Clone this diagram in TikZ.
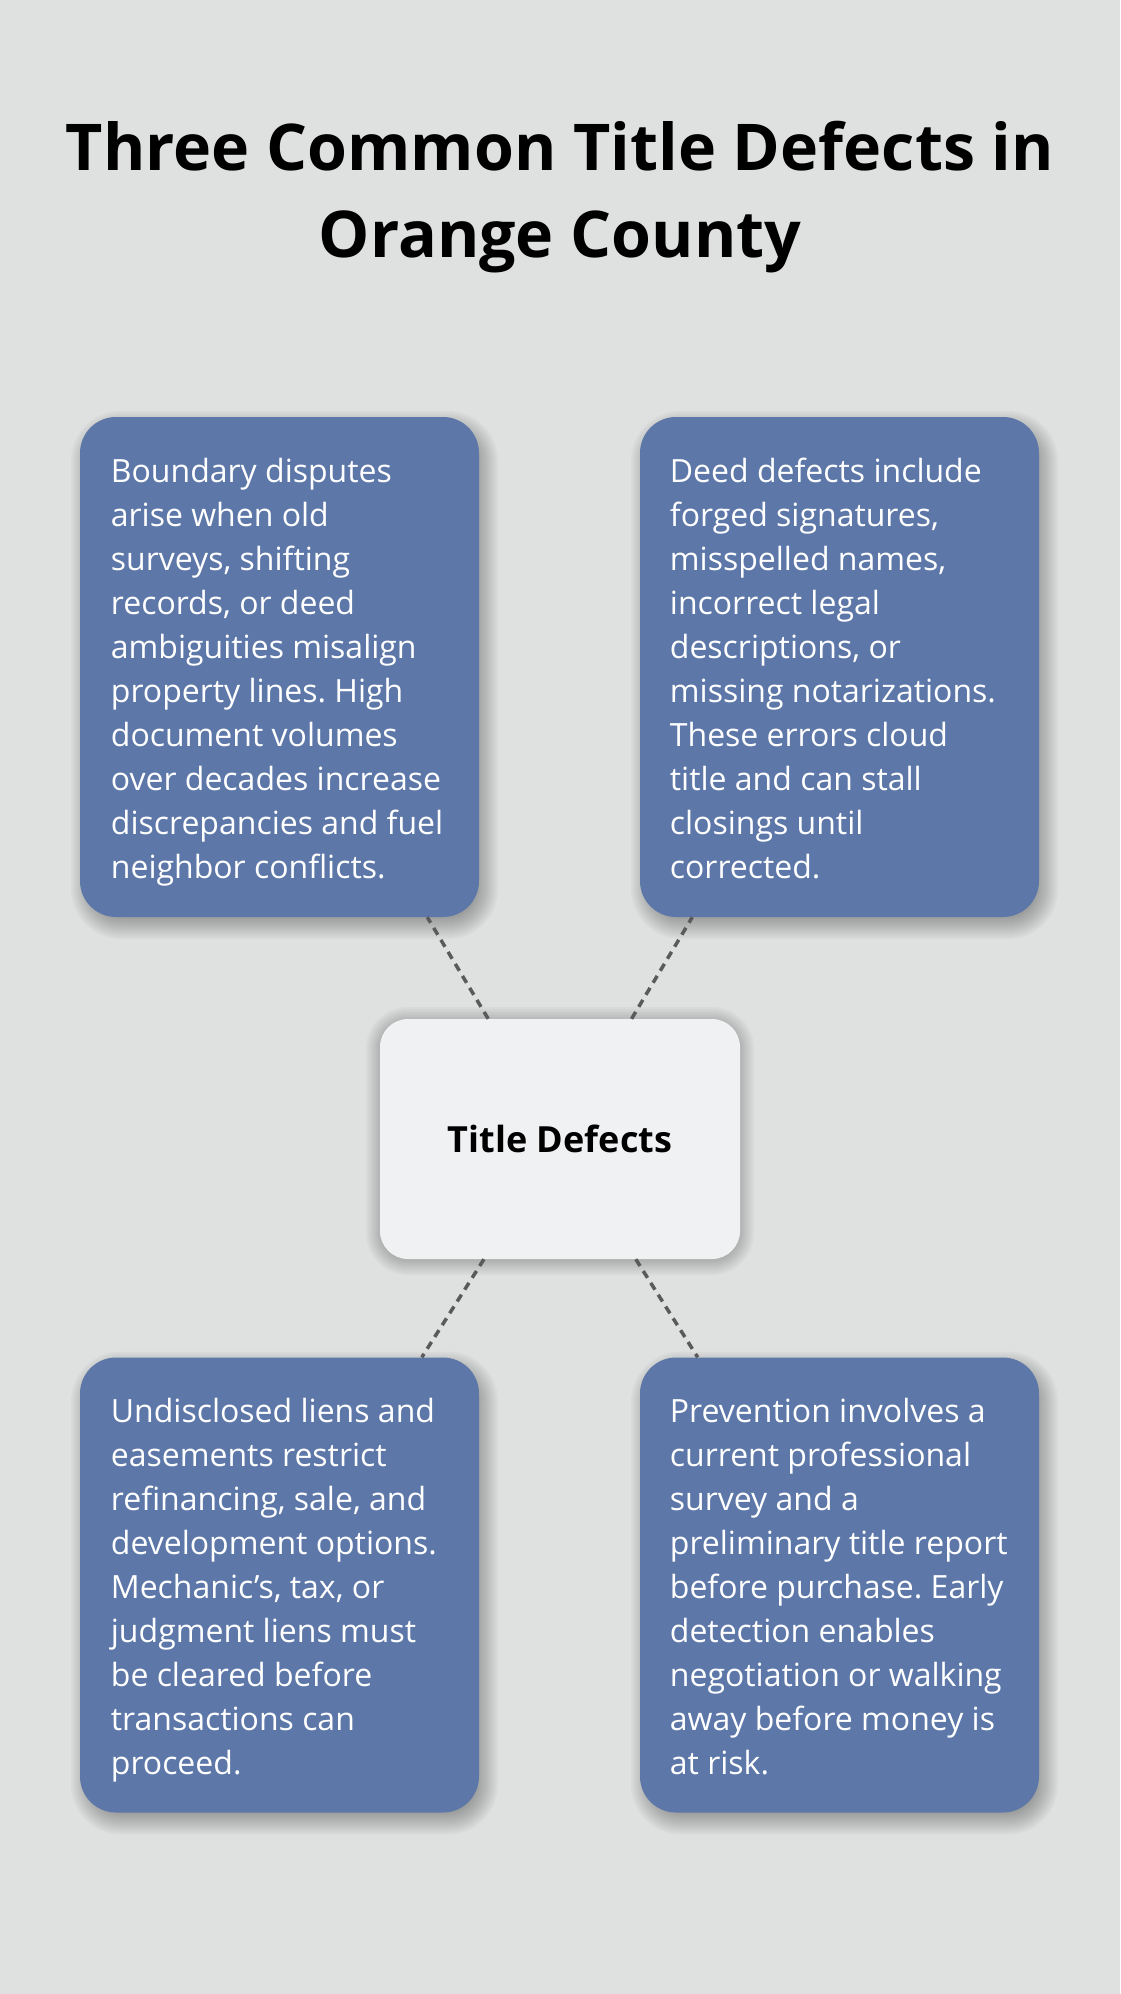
\documentclass[tikz,border=0pt]{standalone}
\usepackage{fontspec}
\setmainfont{Open Sans}
\frenchspacing
\definecolor{bgcol}{HTML}{DFE1E0}
\definecolor{cardblue}{HTML}{5C77A8}
\definecolor{hubcol}{HTML}{F0F1F3}
\definecolor{dashcol}{HTML}{5A5A5A}
% soft shadow: cx cy halfwidth halfheight dx dy radius
\newcommand\mysoftshadow[7]{%
  \foreach \e in {-8,-6,...,14}{%
    \pgfmathsetmacro\rr{max(#7+\e,2)}%
    \fill[black, fill opacity=0.028, rounded corners=\rr pt]
      ({#1-#3-\e+#5},{#2-#4-\e+#6}) rectangle ({#1+#3+\e+#5},{#2+#4+\e+#6});
  }}
\begin{document}
\begin{tikzpicture}[x=1pt,y=-1pt,
  cardbox/.style={fill=cardblue, rounded corners=36pt, minimum width=399pt, inner sep=0pt},
  hubbox/.style={fill=hubcol, rounded corners=28pt, minimum width=360pt, minimum height=240pt, inner sep=0pt,
    font=\bfseries\fontsize{36}{44}\selectfont, text=black},
  bodytext/.style={text=white, font=\fontsize{32}{44}\selectfont, align=left, inner sep=0pt, anchor=north west},
  titletext/.style={text=black, font=\bfseries\fontsize{64.5}{87}\selectfont, align=center, inner sep=0pt, anchor=north},
  conn/.style={draw=dashcol, line width=3.5pt, dash pattern=on 8pt off 6pt}
]
\fill[bgcol] (0,0) rectangle (1120,1994);
\useasboundingbox (0,0) rectangle (1120,1994);

\node[titletext] (title) at (560,118) {\rule{0pt}{52pt}Three Common Title Defects in\\Orange County};

\mysoftshadow{279.5}{667}{199.5}{250}{5}{8}{36}
\mysoftshadow{839.5}{667}{199.5}{250}{5}{8}{36}
\mysoftshadow{279.5}{1585}{199.5}{227.5}{5}{8}{36}
\mysoftshadow{839.5}{1585}{199.5}{227.5}{5}{8}{36}
\mysoftshadow{560}{1137}{180}{120}{0}{4}{28}

\node[cardbox, minimum height=500pt] (b1) at (279.5,667) {};
\node[cardbox, minimum height=500pt] (b2) at (839.5,667) {};
\node[cardbox, minimum height=455pt] (b3) at (279.5,1585) {};
\node[cardbox, minimum height=455pt] (b4) at (839.5,1585) {};

\node[hubbox] (c) at (560,1139) {Title Defects};

\draw[conn] (c) -- (b1);
\draw[conn] (c) -- (b2);
\draw[conn] (c) -- (b3);
\draw[conn] (c) -- (b4);

\node[bodytext] (t1) at (110.7,452) {\rule{0pt}{30pt}Boundary disputes\\arise when old\\surveys, shifting\\records, or deed\\ambiguities misalign\\property lines. High\\document volumes\\over decades increase\\discrepancies and fuel\\neighbor conflicts.};
\node[bodytext] (t2) at (669.7,452) {\rule{0pt}{30pt}Deed defects include\\forged signatures,\\misspelled names,\\incorrect legal\\descriptions, or\\missing notarizations.\\These errors cloud\\title and can stall\\closings until\\corrected.};
\node[bodytext] (t3) at (110.7,1392) {\rule{0pt}{30pt}Undisclosed liens and\\easements restrict\\refinancing, sale, and\\development options.\\Mechanic’s, tax, or\\judgment liens must\\be cleared before\\transactions can\\proceed.};
\node[bodytext] (t4) at (669.7,1392) {\rule{0pt}{30pt}Prevention involves a\\current professional\\survey and a\\preliminary title report\\before purchase. Early\\detection enables\\negotiation or walking\\away before money is\\at risk.};
\end{tikzpicture}
\end{document}
